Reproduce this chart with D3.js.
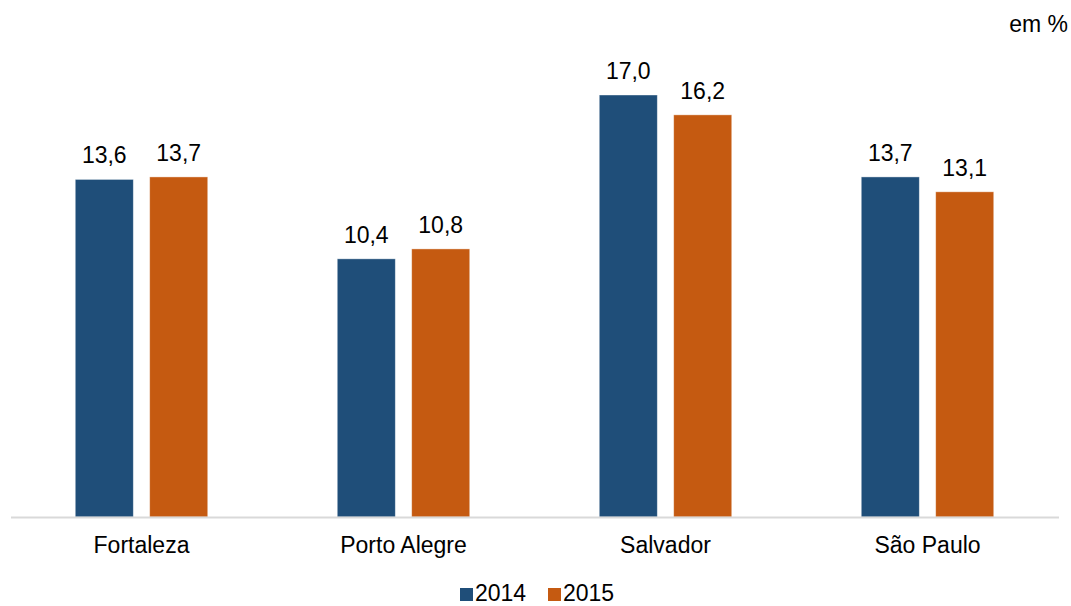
<!DOCTYPE html>
<html>
<head>
<meta charset="utf-8">
<script src="https://cdn.jsdelivr.net/npm/d3@7"></script>
<style>
  body { margin: 0; background: #fff; }
  text { font-family: Arial, "Liberation Sans", sans-serif; fill: #000; }
</style>
</head>
<body>
<div id="chart-area"></div>
<script>
var cities = ['Fortaleza', 'Porto Alegre', 'Salvador', 'São Paulo'];
var years = ['2014', '2015'];
var values2014 = [13.6, 10.4, 17.0, 13.7];
var values2015 = [13.7, 10.8, 16.2, 13.1];
var colors = ['#1F4E79', '#C55A11'];

const WIDTH = 1071
const HEIGHT = 606
const BASE = 517

const svg = d3.select("#chart-area").append("svg")
      .attr("width", WIDTH)
      .attr("height", HEIGHT)

const rows = cities.map((c, i) => ({ city: c, vals: [values2014[i], values2015[i]] }))

const x0 = d3.scaleBand()
      .domain(cities)
      .range([10.5, 1058.5])

const x1 = d3.scaleBand()
      .domain(years)
      .range([0, x0.bandwidth()])
      .paddingInner(0.22)
      .paddingOuter(0.87)

const y = d3.scaleLinear()
      .domain([0, 17])
      .range([BASE, 95])

const fmt = v => v.toFixed(1).replace('.', ',')

// bars
const groups = svg.selectAll("g.city").data(rows).enter().append("g")
      .attr("class", "city")
      .attr("transform", d => `translate(${x0(d.city)}, 0)`)

groups.selectAll("rect")
      .data(d => d.vals.map((v, i) => ({ year: years[i], v: v, i: i })))
      .enter().append("rect")
      .attr("x", d => x1(d.year))
      .attr("y", d => y(d.v))
      .attr("width", x1.bandwidth())
      .attr("height", d => y(0) - y(d.v))
      .attr("fill", d => colors[d.i])
      .attr("stroke", "#ffffff")
      .attr("stroke-opacity", 0.5)
      .attr("stroke-width", 0.8)

groups.selectAll("text.val")
      .data(d => d.vals.map((v, i) => ({ year: years[i], v: v, i: i })))
      .enter().append("text")
      .attr("class", "val")
      .attr("x", d => x1(d.year) + x1.bandwidth() / 2)
      .attr("y", d => y(d.v) - 16)
      .attr("text-anchor", "middle")
      .attr("font-size", "23px")
      .text(d => fmt(d.v))

// X axis
const xAxis = svg.append("g")
      .attr("transform", `translate(0, ${BASE})`)
      .call(d3.axisBottom(x0).tickSize(0).tickPadding(20))
xAxis.select(".domain").attr("stroke", "#D9D9D9").attr("stroke-width", 2)
xAxis.selectAll("text")
      .attr("font-size", "23px")
      .attr("font-family", "Arial, 'Liberation Sans', sans-serif")
      .attr("fill", "#000")

// unit label
svg.append("text")
      .attr("x", 1068)
      .attr("y", 32)
      .attr("text-anchor", "end")
      .attr("font-size", "23px")
      .text("em %")

// legend
const legend = svg.append("g").attr("transform", "translate(460, 0)")
const items = legend.selectAll("g").data(years).enter().append("g")
      .attr("transform", (d, i) => `translate(${i * 88}, 0)`)
items.append("rect")
      .attr("x", 0)
      .attr("y", 588)
      .attr("width", 13)
      .attr("height", 13)
      .attr("fill", (d, i) => colors[i])
items.append("text")
      .attr("x", 15)
      .attr("y", 601)
      .attr("font-size", "23px")
      .text(d => d)
</script>
</body>
</html>
